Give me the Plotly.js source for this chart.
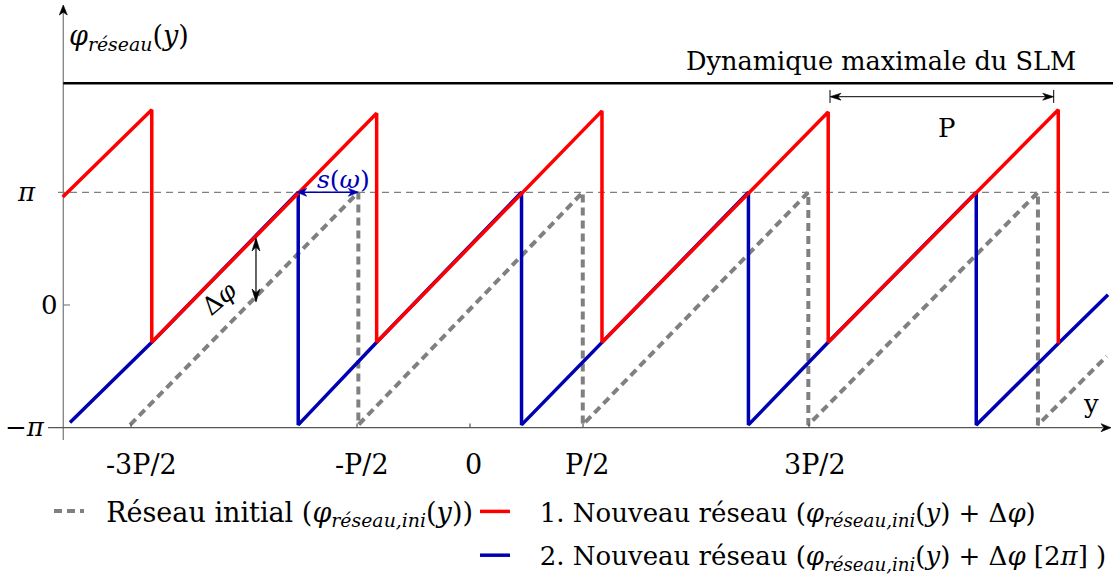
<!DOCTYPE html>
<html>
<head>
<meta charset="utf-8">
<script src="https://cdn.plot.ly/plotly-3.0.1.min.js"></script>
<style>html,body{margin:0;padding:0;background:#fff;}#chart{width:1113px;height:574px;}</style>
</head>
<body>
<div id="chart"></div>
<script>
// x in units of P, y in units of pi
const grayX = [-1.504, -0.494, -0.494, 0.499, 0.499, 1.497, 1.497, 2.513, 2.513, 2.817];
const grayY = [-1.00, 1.00, -1.00, 1.00, -1.00, 1.00, -1.00, 1.00, -1.00, -0.41];

const redX = [-1.802, -1.408, -1.408, -0.413, -0.413, 0.584, 0.584, 1.585, 1.585, 2.603, 2.603];
const redY = [0.96, 1.71, -0.29, 1.68, -0.29, 1.70, -0.29, 1.69, -0.29, 1.71, -0.30];

const blueX = [-1.770, -1.408, -0.760, -0.760, -0.413, 0.228, 0.228, 0.584, 1.232, 1.232, 1.585, 2.240, 2.240, 2.603, 2.823];
const blueY = [-0.98, -0.29, 1.00, -1.00, -0.29, 1.00, -1.00, -0.29, 1.00, -1.00, -0.29, 1.00, -1.00, -0.30, 0.12];

const xTickVals = [-1.5, -0.5, 0, 0.5, 1.5];
const xTickText = ['-3P/2', '-P/2', '0', 'P/2', '3P/2'];
const yTickVals = [1, 0, -1];
const yTickText = ['<i>π</i>', '0', '−<i>π</i>'];

const seriesNames = [
  'Réseau initial (<i>φ</i><sub><i>réseau,ini</i></sub>(<i>y</i>))',
  '1. Nouveau réseau (<i>φ</i><sub><i>réseau,ini</i></sub>(<i>y</i>) + Δ<i>φ</i>)',
  '2. Nouveau réseau (<i>φ</i><sub><i>réseau,ini</i></sub>(<i>y</i>) + Δ<i>φ</i> [2<i>π</i>] )'
];

const FONT = 'DejaVu Serif';
const GRAY = '#808080';
const RED = '#ff0000';
const BLUE = '#0000b3';

const traces = [
  {x: grayX, y: grayY, mode: 'lines', name: '\u00a0\u00a0' + seriesNames[0], legend: 'legend',
   line: {color: GRAY, width: 4, dash: '8px,5px'}},
  {x: blueX, y: blueY, mode: 'lines', name: '\u00a0\u00a0\u00a0' + seriesNames[2], legend: 'legend2', legendrank: 2, legendgroup: 'b',
   line: {color: BLUE, width: 3.5}},
  {x: redX, y: redY, mode: 'lines', name: '\u00a0\u00a0\u00a0' + seriesNames[1], legend: 'legend2', legendrank: 1, legendgroup: 'r',
   line: {color: RED, width: 3.5}}
];

const AX = -1.7996;   // y-axis position (x units)
const AY = -1.0241;   // x-axis position (y units)
const SX = 226, SY = 116.3; // pixels per unit on each axis

function seg(x0, y0, x1, y1, color, width, extra) {
  return Object.assign({type: 'line', xref: 'x', yref: 'y', x0: x0, y0: y0, x1: x1, y1: y1,
    line: {color: color, width: width}}, extra || {});
}
// stealth-like arrow head, tip at (tx,ty), direction (dx,dy) in screen-up pixel space
function head(tx, ty, dx, dy, len, half, color) {
  const px = tx * SX, py = ty * SY;
  const bx = px - len * dx, by = py - len * dy;
  const nx = -dy, ny = dx;
  const pts = [
    [px, py],
    [bx + half * nx, by + half * ny],
    [px - 0.72 * len * dx, py - 0.72 * len * dy],
    [bx - half * nx, by - half * ny]
  ];
  const path = pts.map((p, i) => (i ? 'L' : 'M') + (p[0] / SX).toFixed(5) + ',' + (p[1] / SY).toFixed(5)).join(' ') + ' Z';
  return {type: 'path', xref: 'x', yref: 'y', path: path, fillcolor: color, line: {color: color, width: 0.6}};
}

const shapes = [
  // y axis
  seg(AX, -1.13, AX, 2.56, GRAY, 1.3, {layer: 'below'}),
  head(AX, 2.6105, 0, 1, 10, 4, '#000'),
  // x axis
  seg(-1.8673, AY, 2.80, AY, '#555555', 1.3, {layer: 'below'}),
  head(2.8363, AY, 1, 0, 10, 4, '#000'),
  // pi dashed reference
  Object.assign(seg(-1.823, 1, 2.8451, 1, GRAY, 1.3, {layer: 'below'}), {line: {color: GRAY, width: 1.3, dash: '7px,5px'}}),
  // SLM maximum
  seg(AX, 1.9372, 2.8451, 1.9372, '#000', 2.5, {layer: 'below'}),
  // 0 tick
  seg(AX, 0.031, -1.77, 0.031, GRAY, 1.2),
  // P dimension
  seg(1.5929, 1.768, 1.5929, 1.880, '#000', 1),
  seg(2.5827, 1.768, 2.5827, 1.880, '#000', 1),
  seg(1.60, 1.822, 2.575, 1.822, '#000', 1),
  head(2.5827, 1.822, 1, 0, 11, 3.5, '#000'),
  head(1.5929, 1.822, -1, 0, 11, 3.5, '#000'),
  // s(omega)
  seg(-0.76, 1.0, -0.50, 1.0, BLUE, 1.6),
  head(-0.4942, 1.0, 1, 0, 10, 4, BLUE),
  head(-0.7668, 1.0, -1, 0, 10, 4, BLUE),
  // delta phi
  seg(-0.9469, 0.07, -0.9469, 0.595, '#000', 1.2),
  head(-0.9469, 0.607, 0, 1, 13, 4, '#000'),
  head(-0.9469, 0.0568, 0, -1, 13, 4, '#000')
];
xTickVals.forEach(v => shapes.push(seg(v, AY, v, -0.988, '#555555', 1.2)));

function label(text, x, y, opts) {
  return Object.assign({x: x, y: y, xref: 'x', yref: 'y', text: text, showarrow: false,
    font: {family: FONT, size: 26, color: '#000'}, xanchor: 'center', yanchor: 'middle'}, opts || {});
}

const nudges = [11, 5, 3, 4, 6];
const annotations = [
  label('<i>φ</i><sub><i>réseau</i></sub>(<i>y</i>)', -1.7832, 2.3268, {xanchor: 'left', font: {family: FONT, size: 27, color: '#000'}}),
  label('Dynamique maximale du SLM', 2.6903, 2.129, {xanchor: 'right', font: {family: FONT, size: 25.6, color: '#000'}}),
  label('P', 2.1093, 1.5529),
  label('<i>s</i>(<i>ω</i>)', -0.5619, 1.1058, {font: {family: FONT, size: 25, color: BLUE}}),
  label('Δ<i>φ</i>', -1.1106, 0.0911, {textangle: -40, font: {family: FONT, size: 25, color: '#000'}}),
  label('y', 2.7478, -0.8203),
  label(yTickText[0], -1.9602, yTickVals[0] + 0.0026),
  label(yTickText[1], -1.8584, yTickVals[1] + 0.031),
  label(yTickText[2], -1.969, yTickVals[2] - 0.018)
];
xTickVals.forEach((v, i) => annotations.push(label(xTickText[i], v, -1.3448, {xshift: nudges[i], font: {family: FONT, size: 27, color: '#000'}})));

const legendCommon = {xanchor: 'left', yanchor: 'top', bgcolor: 'rgba(0,0,0,0)', borderwidth: 0,
  itemwidth: 30, orientation: 'v', tracegroupgap: 7};

const layout = {
  width: 1113, height: 574, autosize: false,
  margin: {l: 0, r: 0, t: 0, b: 0, pad: 0, autoexpand: false},
  paper_bgcolor: '#fff', plot_bgcolor: '#fff',
  font: {family: FONT, color: '#000'},
  showlegend: true,
  xaxis: {range: [-2.0796, 2.8451], visible: false, fixedrange: true},
  yaxis: {range: [-2.2821, 2.6535], visible: false, fixedrange: true},
  legend: Object.assign({x: 49 / 1113, y: 1 - 487 / 574, font: {family: FONT, size: 27, color: '#000'}}, legendCommon),
  legend2: Object.assign({x: 475 / 1113, y: 1 - 488 / 574, font: {family: FONT, size: 26, color: '#000'}}, legendCommon),
  shapes: shapes,
  annotations: annotations,
  hovermode: false
};

Plotly.newPlot('chart', traces, layout, {staticPlot: true, displayModeBar: false});
</script>
</body>
</html>
